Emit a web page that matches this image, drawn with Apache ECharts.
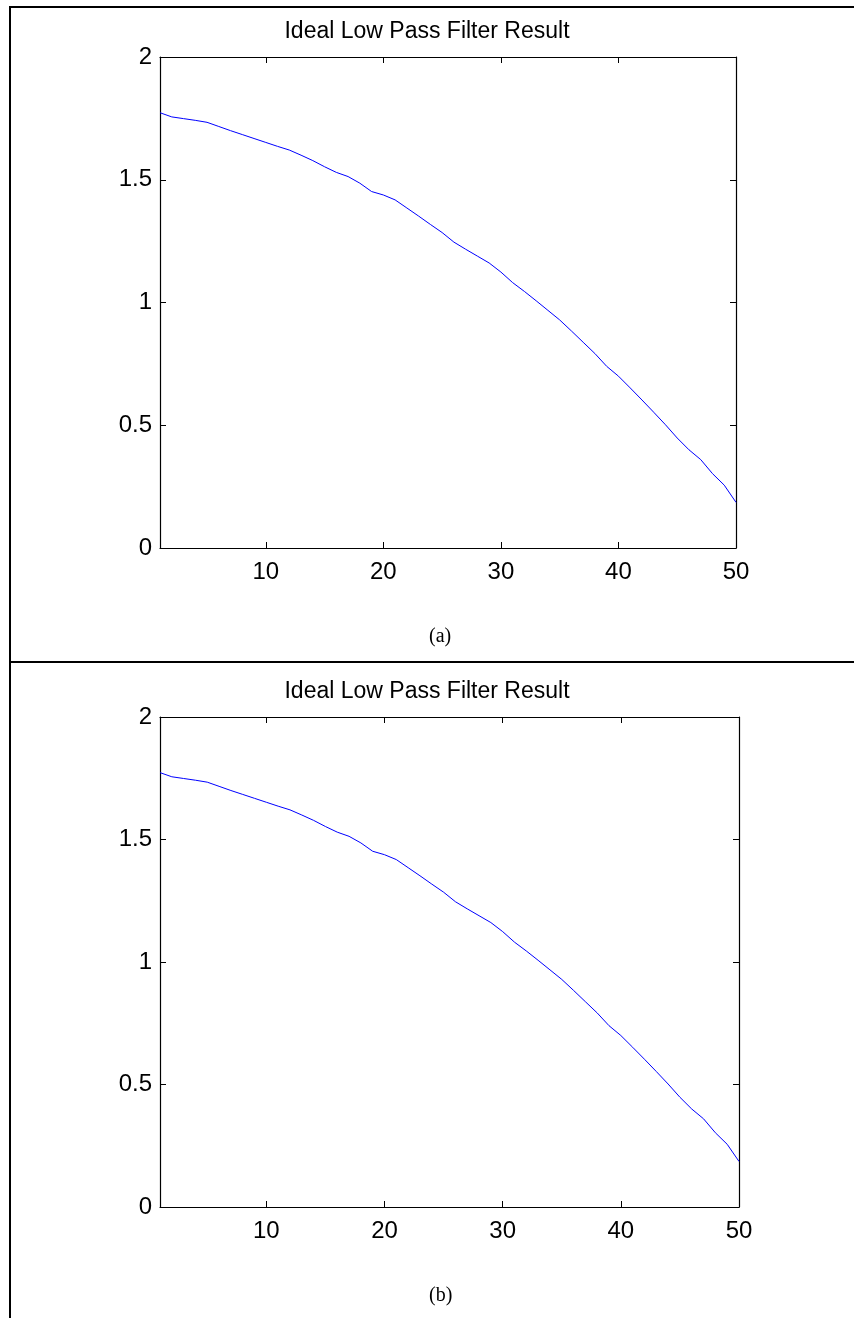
<!DOCTYPE html>
<html>
<head>
<meta charset="utf-8">
<script src="https://cdn.jsdelivr.net/npm/echarts@6/dist/echarts.min.js"></script>
<style>
  html, body { margin: 0; padding: 0; background: #fff; }
  #main { width: 854px; height: 1318px; }
</style>
</head>
<body>
<div id="main"></div>
<script>
var chartTitle = 'Ideal Low Pass Filter Result';
var captions = ['(a)', '(b)'];
var xValues = [];
for (var i = 1; i <= 50; i++) xValues.push(i);
var xTicks = [10, 20, 30, 40, 50];
var filterResult = [
  1.773, 1.756, 1.749, 1.742, 1.734, 1.717, 1.700, 1.684, 1.668, 1.652,
  1.636, 1.621, 1.600, 1.578, 1.553, 1.530, 1.513, 1.486, 1.452, 1.438,
  1.418, 1.385, 1.352, 1.318, 1.285, 1.246, 1.217, 1.189, 1.161, 1.124,
  1.081, 1.045, 1.007, 0.968, 0.929, 0.884, 0.838, 0.792, 0.740, 0.700,
  0.652, 0.603, 0.553, 0.502, 0.448, 0.400, 0.360, 0.303, 0.256, 0.186
];

var myChart = echarts.init(document.getElementById('main'));

var labelFont = { color: '#000', fontFamily: 'Liberation Sans, Arial', fontSize: 24 };
var axisLine = { show: true, onZero: false, lineStyle: { color: '#000', width: 1.2 } };
var tick = { show: true, inside: true, length: 6, lineStyle: { color: '#000' } };

var grids = [
  { left: 160, top: 57, width: 576, height: 491 },
  { left: 160, top: 717, width: 579, height: 490 }
];

var xAxes = [], yAxes = [], series = [], titles = [];
grids.forEach(function (g, k) {
  xAxes.push({
    type: 'value', gridIndex: k, position: 'bottom', min: 1, max: 50,
    axisLine: axisLine,
    axisTick: Object.assign({ customValues: xTicks }, tick),
    axisLabel: Object.assign({ customValues: xTicks, margin: 12 }, labelFont),
    splitLine: { show: false }
  });
  xAxes.push({
    type: 'value', gridIndex: k, position: 'top', min: 1, max: 50,
    axisLine: axisLine,
    axisTick: Object.assign({ customValues: xTicks }, tick),
    axisLabel: { show: false },
    splitLine: { show: false }
  });
  yAxes.push({
    type: 'value', gridIndex: k, position: 'left', min: 0, max: 2, interval: 0.5,
    axisLine: axisLine, axisTick: tick,
    axisLabel: Object.assign({ margin: 8 }, labelFont),
    splitLine: { show: false }
  });
  yAxes.push({
    type: 'value', gridIndex: k, position: 'right', min: 0, max: 2, interval: 0.5,
    axisLine: axisLine, axisTick: tick,
    axisLabel: { show: false },
    splitLine: { show: false }
  });
  series.push({
    type: 'line', xAxisIndex: 2 * k, yAxisIndex: 2 * k,
    data: xValues.map(function (x, j) { return [x, filterResult[j]]; }),
    showSymbol: false, symbol: 'none', smooth: false,
    lineStyle: { color: '#0000ff', width: 1 },
    animation: false
  });
  titles.push({
    text: chartTitle, left: 'center', top: 15 + 660 * k,
    textStyle: { color: '#000', fontFamily: 'Liberation Sans, Arial', fontSize: 23, fontWeight: 'normal' }
  });
  titles.push({
    text: captions[k], left: 424, top: 622 + 659 * k,
    textStyle: { color: '#000', fontFamily: 'Liberation Serif, Times New Roman', fontSize: 20, fontWeight: 'normal' }
  });
});

var option = {
  backgroundColor: '#fff',
  animation: false,
  title: titles,
  grid: grids,
  xAxis: xAxes,
  yAxis: yAxes,
  series: series,
  graphic: [
    { type: 'polyline', shape: { points: [[10, 1318], [10, 7], [854, 7]] }, style: { stroke: '#000', lineWidth: 2, fill: null } },
    { type: 'line', shape: { x1: 10, y1: 662, x2: 854, y2: 662 }, style: { stroke: '#000', lineWidth: 2 } }
  ]
};

myChart.setOption(option);
</script>
</body>
</html>
